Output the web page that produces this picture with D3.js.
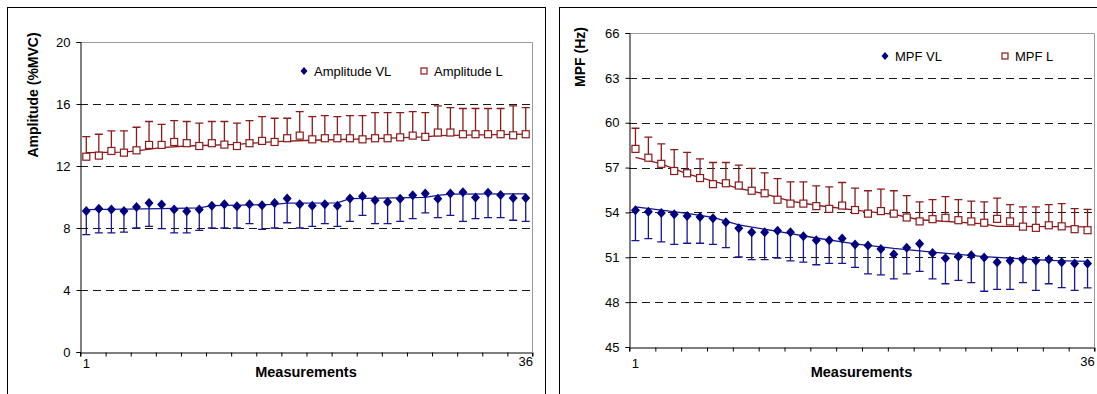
<!DOCTYPE html>
<html>
<head>
<meta charset="utf-8">
<script src="https://cdn.jsdelivr.net/npm/d3@7"></script>
<style>
  body { margin: 0; background: #fff; }
  svg { display: block; font-family: 'Liberation Sans', Arial, sans-serif; }
</style>
</head>
<body>
<div id="chart"></div>
<script>
// measurement index 1..36
const measurements = d3.range(1, 37);

// Amplitude (%MVC)
const ampVL = [9.10, 9.25, 9.19, 9.10, 9.36, 9.62, 9.51, 9.19, 9.08, 9.19, 9.44, 9.53, 9.40, 9.53, 9.47, 9.62, 9.90, 9.53,
	9.44, 9.53, 9.44, 9.90, 10.05, 9.79, 9.68, 9.88, 10.11, 10.22, 9.88, 10.22, 10.31, 9.96, 10.28, 10.13, 9.94, 9.94];
const ampVLsd = [1.53, 1.57, 1.51, 1.36, 1.36, 1.51, 1.55, 1.51, 1.40, 1.34, 1.44, 1.53, 1.40, 1.25, 1.56, 1.62, 1.56, 1.53,
	1.33, 1.25, 1.33, 1.47, 1.23, 1.51, 1.40, 1.45, 1.51, 1.25, 1.21, 1.40, 1.88, 1.36, 1.61, 1.46, 1.44, 1.51];
const ampL = [12.60, 12.67, 12.97, 12.86, 13.01, 13.36, 13.36, 13.55, 13.47, 13.29, 13.47, 13.38, 13.29, 13.47, 13.62, 13.55, 13.79, 13.96,
	13.72, 13.79, 13.79, 13.79, 13.72, 13.79, 13.79, 13.85, 13.96, 13.88, 14.16, 14.16, 14.05, 14.05, 14.05, 14.05, 13.98, 14.05];
const ampLsd = [1.30, 1.38, 1.29, 1.40, 1.49, 1.51, 1.33, 1.38, 1.40, 1.47, 1.40, 1.49, 1.47, 1.46, 1.57, 1.53, 1.29, 1.55,
	1.47, 1.46, 1.40, 1.46, 1.53, 1.66, 1.66, 1.60, 1.55, 1.57, 1.72, 1.61, 1.66, 1.66, 1.66, 1.66, 1.90, 1.72];
// trend lines (read at a few measurements)
const ampVLTrendAt = [1, 7, 10, 11, 16, 17, 21, 22, 28, 29, 30, 36];
const ampVLTrend = [9.19, 9.25, 9.30, 9.44, 9.52, 9.60, 9.62, 9.90, 9.98, 10.10, 10.18, 10.20];
const ampLTrendAt = [1, 4, 5, 7, 9, 13, 16, 19, 24, 28, 29, 36];
const ampLTrend = [12.86, 12.90, 12.97, 13.19, 13.29, 13.40, 13.57, 13.66, 13.77, 13.88, 13.96, 14.05];
const ampTicks = [0, 4, 8, 12, 16, 20];

// MPF (Hz)
const mpfVL = [54.15, 54.04, 53.96, 53.87, 53.76, 53.69, 53.61, 53.34, 52.95, 52.67, 52.67, 52.77, 52.67, 52.40, 52.14, 52.14, 52.25, 51.86,
	51.79, 51.55, 51.20, 51.64, 51.90, 51.29, 50.94, 51.05, 51.13, 50.98, 50.67, 50.76, 50.83, 50.76, 50.85, 50.67, 50.59, 50.59];
const mpfVLsd = [2.03, 1.79, 1.93, 2.01, 1.82, 1.75, 1.75, 1.70, 1.93, 1.82, 1.82, 1.83, 1.91, 1.73, 1.64, 1.55, 1.66, 1.54,
	1.90, 1.73, 1.64, 1.75, 1.84, 1.73, 1.71, 1.60, 1.83, 2.25, 1.81, 1.90, 1.53, 1.97, 1.62, 1.70, 1.80, 1.64];
const mpfL = [58.25, 57.66, 57.25, 56.77, 56.62, 56.30, 55.89, 55.95, 55.80, 55.45, 55.28, 54.85, 54.59, 54.59, 54.42, 54.24, 54.46, 54.16,
	53.92, 54.09, 53.92, 53.66, 53.40, 53.55, 53.64, 53.48, 53.40, 53.31, 53.57, 53.40, 53.05, 52.97, 53.14, 53.07, 52.88, 52.81];
const mpfLsd = [1.38, 1.37, 1.34, 1.43, 1.39, 1.28, 1.45, 1.39, 1.36, 1.50, 1.36, 1.41, 1.45, 1.45, 1.36, 1.47, 1.54, 1.47,
	1.53, 1.47, 1.53, 1.47, 1.30, 1.30, 1.42, 1.37, 1.36, 1.39, 1.39, 1.12, 1.32, 1.40, 1.38, 1.52, 1.38, 1.39];
const mpfVLTrendAt = [1, 5, 7, 9, 12, 15, 18, 21, 24, 26, 28, 30, 33, 36];
const mpfVLTrend = [54.37, 53.93, 53.67, 53.17, 52.73, 52.29, 51.90, 51.59, 51.35, 51.20, 51.05, 50.94, 50.80, 50.72];
const mpfLTrendAt = [1, 3, 5, 7, 9, 11, 13, 15, 18, 21, 23, 28, 29, 36];
const mpfLTrend = [57.68, 57.25, 56.58, 56.10, 55.61, 55.24, 54.76, 54.48, 54.16, 53.87, 53.51, 53.23, 53.07, 53.03];
const mpfTicks = [45, 48, 51, 54, 57, 60, 63, 66];

const xLabels = ['1', '36'];
const xTitle = 'Measurements';

const BLUE = '#000080';
const BLUE_BAR = '#161690';
const RED = '#8b1a1a';

const width = 1097;
const height = 394;

const svg = d3.select('#chart').append('svg')
	.attr('width', width)
	.attr('height', height);

function drawPanel(config) {
	const {
		frame, plot, yTicks, yTitle, yTitleX, yTitleY, vl, vlSd, l, lSd,
		vlTrendAt, vlTrend, lTrendAt, lTrend, legend,
	} = config;

	svg.append('rect')
		.attr('x', frame.x + 0.5)
		.attr('y', frame.y + 0.5)
		.attr('width', frame.w)
		.attr('height', frame.h)
		.attr('fill', '#fff')
		.attr('stroke', '#000')
		.attr('stroke-width', 1);

	const xScale = d3.scaleLinear()
		.domain([0.5, 36.5])
		.range([plot.left, plot.right]);
	const yScale = d3.scaleLinear()
		.domain(d3.extent(yTicks))
		.range([plot.bottom, plot.top]);

	const g = svg.append('g');

	// plot frame (top / right grey)
	g.append('path')
		.attr('d', `M${plot.left},${plot.top + 0.5}H${plot.right + 0.5}V${plot.bottom}`)
		.attr('fill', 'none')
		.attr('stroke', '#9a9a9a')
		.attr('stroke-width', 1);

	// dashed grid
	g.selectAll('.grid')
		.data(yTicks.slice(1, -1))
		.enter().append('line')
		.attr('x1', plot.left)
		.attr('x2', plot.right)
		.attr('y1', (d) => Math.round(yScale(d)) + 0.5)
		.attr('y2', (d) => Math.round(yScale(d)) + 0.5)
		.attr('stroke', '#1a1a1a')
		.attr('stroke-width', 1)
		.attr('stroke-dasharray', '8,5');

	// y axis
	const yAxis = g.append('g')
		.attr('transform', `translate(${plot.left + 0.5},0)`)
		.call(d3.axisLeft(yScale).tickValues(yTicks).tickSize(4).tickPadding(6));
	yAxis.select('.domain').attr('stroke', '#000');
	yAxis.selectAll('text')
		.attr('font-size', 13)
		.attr('fill', '#000')
		.attr('font-family', 'Liberation Sans, Arial, sans-serif');

	// x axis, ticks every two measurements
	const xTickVals = d3.range(0.5, 37, 2);
	const xAxis = g.append('g')
		.attr('transform', `translate(0,${plot.bottom + 0.5})`)
		.call(d3.axisBottom(xScale).tickValues(xTickVals).tickSize(4).tickFormat(''));
	xAxis.select('.domain').attr('stroke', '#000');
	xAxis.selectAll('.tick line').attr('transform', 'translate(0.5,0)');

	g.selectAll('.xlab')
		.data(xLabels)
		.enter().append('text')
		.attr('x', (d) => xScale(+d))
		.attr('y', (d, i) => (i === 0 ? 368 : 366))
		.attr('text-anchor', 'middle')
		.attr('font-size', 13)
		.text((d) => d);

	g.append('text')
		.attr('x', (plot.left + plot.right) / 2)
		.attr('y', 377)
		.attr('text-anchor', 'middle')
		.attr('font-size', 14.5)
		.attr('font-weight', 'bold')
		.text(xTitle);

	g.append('text')
		.attr('transform', `translate(${yTitleX},${yTitleY}) rotate(-90)`)
		.attr('text-anchor', 'middle')
		.attr('font-size', 14)
		.attr('font-weight', 'bold')
		.text(yTitle);

	const line = d3.line()
		.x((d) => xScale(d[0]))
		.y((d) => yScale(d[1]));

	// error bars: VL downward, L upward
	const capW = 4;
	const bars = g.append('g');
	measurements.forEach((m, i) => {
		const x = xScale(m);
		const yv = yScale(vl[i]);
		const yvb = yScale(vl[i] - vlSd[i]);
		bars.append('path')
			.attr('d', `M${x},${yv}V${yvb}M${x - capW},${yvb}H${x + capW}`)
			.attr('fill', 'none')
			.attr('stroke', BLUE_BAR)
			.attr('stroke-width', 1.3);
		const yl = yScale(l[i]);
		const ylt = yScale(l[i] + lSd[i]);
		bars.append('path')
			.attr('d', `M${x},${yl}V${ylt}M${x - capW},${ylt}H${x + capW}`)
			.attr('fill', 'none')
			.attr('stroke', RED)
			.attr('stroke-width', 1.3);
	});

	// trend lines
	g.append('path')
		.datum(d3.zip(vlTrendAt, vlTrend))
		.attr('d', line)
		.attr('fill', 'none')
		.attr('stroke', BLUE_BAR)
		.attr('stroke-width', 1.3);
	g.append('path')
		.datum(d3.zip(lTrendAt, lTrend))
		.attr('d', line)
		.attr('fill', 'none')
		.attr('stroke', RED)
		.attr('stroke-width', 1.3);

	// markers
	g.selectAll('.dia')
		.data(d3.zip(measurements, vl))
		.enter().append('path')
		.attr('transform', (d) => `translate(${xScale(d[0])},${yScale(d[1])})`)
		.attr('d', 'M0,-5L4.5,0L0,5L-4.5,0Z')
		.attr('fill', BLUE);
	g.selectAll('.sq')
		.data(d3.zip(measurements, l))
		.enter().append('rect')
		.attr('x', (d) => xScale(d[0]) - 3.5)
		.attr('y', (d) => yScale(d[1]) - 3.5)
		.attr('width', 7)
		.attr('height', 7)
		.attr('fill', '#fff')
		.attr('stroke', RED)
		.attr('stroke-width', 1.2);

	// legend
	const lg = g.append('g').attr('transform', `translate(${legend.x},${legend.y})`);
	lg.append('path')
		.attr('d', 'M0,-4L3.5,0L0,4L-3.5,0Z')
		.attr('fill', BLUE);
	lg.append('text')
		.attr('x', 10)
		.attr('y', 4.5)
		.attr('font-size', 13)
		.text(legend.labels[0]);
	lg.append('rect')
		.attr('x', legend.gap - 3)
		.attr('y', -3)
		.attr('width', 6)
		.attr('height', 6)
		.attr('fill', '#fff')
		.attr('stroke', RED)
		.attr('stroke-width', 1.2);
	lg.append('text')
		.attr('x', legend.gap + 10)
		.attr('y', 4.5)
		.attr('font-size', 13)
		.text(legend.labels[1]);
}

drawPanel({
	frame: { x: 7, y: 7, w: 538, h: 420 },
	plot: { left: 80, right: 532, top: 42, bottom: 352 },
	yTicks: ampTicks,
	yTitle: 'Amplitude (%MVC)',
	yTitleX: 38,
	yTitleY: 95,
	vl: ampVL, vlSd: ampVLsd, l: ampL, lSd: ampLsd,
	vlTrendAt: ampVLTrendAt, vlTrend: ampVLTrend,
	lTrendAt: ampLTrendAt, lTrend: ampLTrend,
	legend: { x: 304, y: 71, gap: 120, labels: ['Amplitude VL', 'Amplitude L'] },
});

drawPanel({
	frame: { x: 559, y: 7, w: 600, h: 420 },
	plot: { left: 629, right: 1094, top: 33, bottom: 347 },
	yTicks: mpfTicks,
	yTitle: 'MPF (Hz)',
	yTitleX: 585,
	yTitleY: 57,
	vl: mpfVL, vlSd: mpfVLsd, l: mpfL, lSd: mpfLsd,
	vlTrendAt: mpfVLTrendAt, vlTrend: mpfVLTrend,
	lTrendAt: mpfLTrendAt, lTrend: mpfLTrend,
	legend: { x: 885, y: 56, gap: 120, labels: ['MPF VL', 'MPF L'] },
});
</script>
</body>
</html>
